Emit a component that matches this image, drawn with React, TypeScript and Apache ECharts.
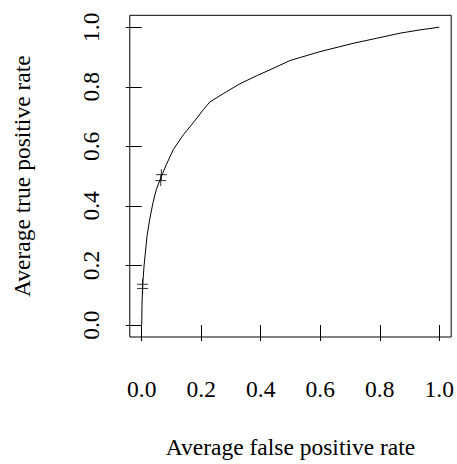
import React, { useEffect, useRef } from "react";
import * as echarts from "echarts";

const fpr = [0, 0.001, 0.003, 0.008, 0.018, 0.027, 0.038, 0.049, 0.064, 0.083, 0.106, 0.14, 0.173, 0.207, 0.229, 0.274, 0.33, 0.386, 0.431, 0.498, 0.599, 0.711, 0.79, 0.868, 0.935, 1.0];
const tpr = [0, 0.07, 0.13, 0.2, 0.3, 0.355, 0.411, 0.455, 0.494, 0.539, 0.589, 0.639, 0.679, 0.723, 0.749, 0.777, 0.81, 0.837, 0.857, 0.888, 0.918, 0.946, 0.963, 0.98, 0.991, 1.0];
const markX = [0.003, 0.003, 0.064, 0.066];
const markY = [0.123, 0.137, 0.485, 0.505];
const ticks = [0, 0.2, 0.4, 0.6, 0.8, 1.0];
const xTitle = "Average false positive rate";
const yTitle = "Average true positive rate";

const FONT = "'Liberation Serif', 'Times New Roman', serif";

export default function App() {
  const ref = useRef<HTMLDivElement>(null);
  useEffect(() => {
    document.body.style.margin = "0";
    const chart = echarts.init(ref.current!, null, { renderer: "svg" });
    const axisCommon = {
      type: "value",
      min: -0.04,
      max: 1.04,
      splitLine: { show: false },
      axisLine: { show: false },
      axisTick: { show: true, inside: false, length: 16, customValues: ticks, lineStyle: { color: "#000", width: 1 } },
      nameLocation: "middle",
      nameTextStyle: { fontFamily: FONT, fontSize: 23.5, color: "#000", fontWeight: "normal" },
    };
    chart.setOption({
      animation: false,
      backgroundColor: "#fff",
      grid: {
        left: 129.8,
        right: 5.8,
        top: 15.3,
        bottom: 126,
        show: true,
        borderColor: "#000",
        borderWidth: 1,
        backgroundColor: "transparent",
      },
      xAxis: {
        ...axisCommon,
        name: xTitle,
        nameGap: 98,
        axisLabel: {
          customValues: ticks,
          formatter: (v: number) => v.toFixed(1),
          fontFamily: FONT,
          fontSize: 23.5,
          color: "#000",
          margin: 40,
        },
      },
      yAxis: {
        ...axisCommon,
        name: yTitle,
        nameGap: 96,
        axisLabel: {
          customValues: ticks,
          formatter: (v: number) => v.toFixed(1),
          fontFamily: FONT,
          fontSize: 23.5,
          color: "#000",
          rotate: 90,
          margin: 27,
        },
      },
      series: [
        {
          type: "line",
          data: fpr.map((x, i) => [x, tpr[i]]),
          showSymbol: false,
          lineStyle: { color: "#000", width: 1 },
          silent: true,
        },
        {
          type: "scatter",
          data: markX.map((x, i) => [x, markY[i]]),
          symbol: "path://M0,-1L0,1M-1,0L1,0",
          symbolSize: 11,
          itemStyle: { color: "none", borderColor: "#000", borderWidth: 1 },
          silent: true,
        },
      ],
    });
    return () => chart.dispose();
  }, []);
  return <div ref={ref} style={{ width: 457, height: 464 }} />;
}
